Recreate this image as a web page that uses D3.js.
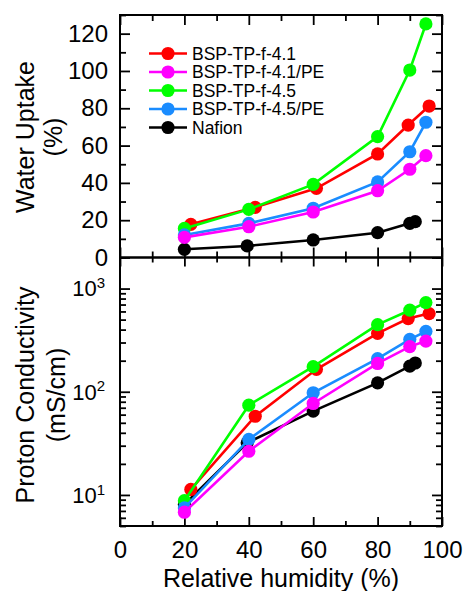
<!DOCTYPE html>
<html><head><meta charset="utf-8">
<script src="https://cdn.jsdelivr.net/npm/d3@7"></script>
<style>
html,body{margin:0;padding:0;background:#fff;}
svg{display:block;font-family:"Liberation Sans",Arial,sans-serif;}
</style></head>
<body><svg id="c" width="464" height="591"></svg>
<script>
// ---- data ----
const seriesNames = ["BSP-TP-f-4.1","BSP-TP-f-4.1/PE","BSP-TP-f-4.5","BSP-TP-f-4.5/PE","Nafion"];
const seriesColors = ["#ff0000","#ff00ff","#00ff00","#1a8cff","#000000"];
const rhRed    = [22, 42, 61, 80, 89.5, 96];
const rhStd    = [20, 40, 60, 80, 90, 95];
const rhNafion = [20, 39.5, 60, 80, 90, 91.7];
const uptakeRed     = [17.8, 26.9, 37.1, 55.5, 71, 81.2];
const uptakeRedPE   = [10.8, 16.5, 24.4, 35.8, 47.3, 54.6];
const uptakeGreen   = [15.6, 25.8, 39.2, 64.8, 100.5, 125.2];
const uptakeGreenPE = [12.1, 18.3, 26.4, 40.5, 56.7, 72.5];
const uptakeNafion  = [4.4, 6.2, 9.4, 13.3, 18.3, 19.2];
const condRed     = [11.3, 57.9, 165, 368, 512, 572];
const condRedPE   = [6.8, 26.5, 77, 188, 274, 310];
const condGreen   = [8.8, 74.1, 175, 447, 617, 731];
const condGreenPE = [7.5, 34.5, 97.8, 209, 322, 385];
const condNafion  = [8.1, 32, 64.9, 122, 177, 190];
const xTicks = [0, 20, 40, 60, 80, 100];
const uptakeTicks = [0, 20, 40, 60, 80, 100, 120];
const condTicks = [10, 100, 1000];

const rhList = [rhRed, rhStd, rhStd, rhStd, rhNafion];
const uptakeList = [uptakeRed, uptakeRedPE, uptakeGreen, uptakeGreenPE, uptakeNafion];
const condList = [condRed, condRedPE, condGreen, condGreenPE, condNafion];
const drawOrder = [4, 0, 2, 3, 1];

// ---- layout ----
const L = 120, R = 442, T = 15, M = 257.5, B = 526;
const svg = d3.select("#c");
const x = d3.scaleLinear().domain([0, 100]).range([L, R]);
const yTop = d3.scaleLinear().domain([0, 130]).range([M, T]);
const yBot = d3.scaleLog().domain([5, 2000]).range([B, M]);

const tickStroke = g => g.selectAll("line").attr("stroke", "#000").attr("stroke-width", 1.8);
function axis(gen, tr) {
  const g = svg.append("g").attr("transform", tr).call(gen);
  g.select(".domain").remove();
  tickStroke(g.selectAll(".tick"));
  g.selectAll("text").attr("fill", "#000");
  return g;
}
const minorX = d3.range(10, 100, 20);
// top panel x ticks (top edge, pointing down) and middle (pointing up)
axis(d3.axisTop(x).tickValues(xTicks).tickSize(-10).tickFormat(""), `translate(0,${T})`);
axis(d3.axisTop(x).tickValues(minorX).tickSize(-6).tickFormat(""), `translate(0,${T})`);
axis(d3.axisBottom(x).tickValues(xTicks).tickSize(-10).tickFormat(""), `translate(0,${M})`);
axis(d3.axisBottom(x).tickValues(minorX).tickSize(-6).tickFormat(""), `translate(0,${M})`);
// bottom panel top (pointing down) and bottom (pointing up, labelled)
axis(d3.axisTop(x).tickValues(xTicks).tickSize(-9).tickFormat(""), `translate(0,${M})`);
axis(d3.axisTop(x).tickValues(minorX).tickSize(-5).tickFormat(""), `translate(0,${M})`);
const xb = axis(d3.axisBottom(x).tickValues(xTicks).tickSize(-9).tickPadding(14.5).tickFormat(d3.format("d")), `translate(0,${B})`);
xb.selectAll("text").attr("font-size", 24);
axis(d3.axisBottom(x).tickValues(minorX).tickSize(-5).tickFormat(""), `translate(0,${B})`);

// top panel y ticks
const minorUp = d3.range(10, 131, 20);
const yl = axis(d3.axisLeft(yTop).tickValues(uptakeTicks).tickSize(-10).tickPadding(12), `translate(${L},0)`);
yl.selectAll("text").attr("font-size", 24);
axis(d3.axisLeft(yTop).tickValues(minorUp).tickSize(-6).tickFormat(""), `translate(${L},0)`);
axis(d3.axisRight(yTop).tickValues(uptakeTicks).tickSize(-10).tickFormat(""), `translate(${R},0)`);
axis(d3.axisRight(yTop).tickValues(minorUp).tickSize(-6).tickFormat(""), `translate(${R},0)`);

// bottom panel y ticks (log)
const minorLog = [];
[1, 10, 100, 1000].forEach(d => { for (let k = 2; k <= 9; k++) { const v = d * k; if (v >= 5 && v <= 2000 && v !== 10 && v !== 100 && v !== 1000) minorLog.push(v); } });
axis(d3.axisLeft(yBot).tickValues(condTicks).tickSize(-10).tickFormat(""), `translate(${L},0)`);
axis(d3.axisLeft(yBot).tickValues(minorLog).tickSize(-6).tickFormat(""), `translate(${L},0)`);
axis(d3.axisRight(yBot).tickValues(condTicks).tickSize(-10).tickFormat(""), `translate(${R},0)`);
axis(d3.axisRight(yBot).tickValues(minorLog).tickSize(-6).tickFormat(""), `translate(${R},0)`);
condTicks.forEach(v => {
  const t = svg.append("text").attr("x", 105).attr("y", yBot(v)).attr("dy", "0.36em")
    .attr("text-anchor", "end").attr("font-size", 22).attr("fill", "#000");
  t.append("tspan").text("10");
  t.append("tspan").text(String(Math.round(Math.log10(v)))).attr("font-size", 15).attr("dy", "-0.55em");
});

// frames
svg.append("rect").attr("x", L).attr("y", T).attr("width", R - L).attr("height", M - T)
  .attr("fill", "none").attr("stroke", "#000").attr("stroke-width", 2);
svg.append("rect").attr("x", L).attr("y", M).attr("width", R - L).attr("height", B - M)
  .attr("fill", "none").attr("stroke", "#000").attr("stroke-width", 2);

// series
function drawPanel(yScale, valsList) {
  const g = svg.append("g");
  drawOrder.forEach(i => {
    const pts = rhList[i].map((h, j) => [x(h), yScale(valsList[i][j])]);
    g.append("path").attr("d", d3.line()(pts)).attr("fill", "none")
      .attr("stroke", seriesColors[i]).attr("stroke-width", 2.6);
    g.selectAll(null).data(pts).enter().append("circle")
      .attr("cx", d => d[0]).attr("cy", d => d[1]).attr("r", 6.6).attr("fill", seriesColors[i]);
  });
}
drawPanel(yTop, uptakeList);
drawPanel(yBot, condList);

// legend
const lg = svg.append("g");
seriesNames.forEach((n, i) => {
  const yy = 53.5 + i * 18.5;
  lg.append("line").attr("x1", 149).attr("x2", 187).attr("y1", yy).attr("y2", yy)
    .attr("stroke", seriesColors[i]).attr("stroke-width", 2.6);
  lg.append("circle").attr("cx", 168).attr("cy", yy).attr("r", 6.6).attr("fill", seriesColors[i]);
  lg.append("text").attr("x", 192).attr("y", yy).attr("dy", "0.36em").attr("font-size", 17.5)
    .attr("fill", "#000").text(n);
});

// axis titles
function vtitle(lines, xs, cy) {
  lines.forEach((s, i) => {
    svg.append("text").attr("transform", `translate(${xs[i]},${cy}) rotate(-90)`)
      .attr("text-anchor", "middle").attr("dy", "0.36em").attr("font-size", 25).attr("fill", "#000").text(s);
  });
}
vtitle(["Water Uptake", "(%)"], [25, 53], 137);
vtitle(["Proton Conductivity", "(mS/cm)"], [25, 56], 395);
svg.append("text").attr("x", (L + R) / 2).attr("y", 586.5).attr("text-anchor", "middle")
  .attr("font-size", 25).attr("fill", "#000").text("Relative humidity (%)");
</script></body></html>
